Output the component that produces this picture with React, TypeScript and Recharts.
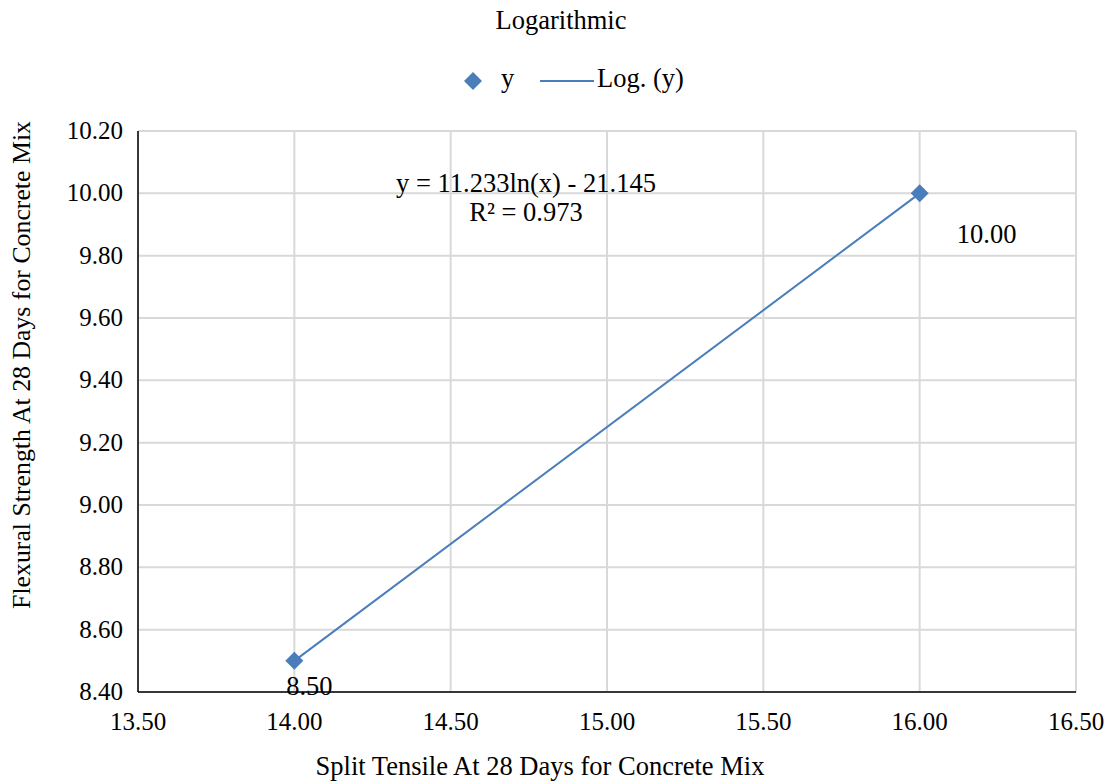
import { ComposedChart, Scatter, Line, XAxis, YAxis, CartesianGrid, LabelList } from "recharts";

// 측정값 (x: 쪼갬인장, y: 휨강도)
const xValues = [14.0, 16.0];
const yValues = [8.5, 10.0];
// 로그 추세선 끝점
const trendValues = [8.5, 10.0];
const xTicks = [13.5, 14.0, 14.5, 15.0, 15.5, 16.0, 16.5];
const yTicks = [8.4, 8.6, 8.8, 9.0, 9.2, 9.4, 9.6, 9.8, 10.0, 10.2];

const FONT = '"Liberation Serif", "Times New Roman", serif';
const BLUE = "#4a7ebb";
const TXT = 26.5;
const TICK = 25;

const data = xValues.map((x, i) => ({ x, y: yValues[i], trend: trendValues[i] }));

const Diamond = (props: any) => {
  const { cx, cy } = props;
  if (cx == null || cy == null) return null;
  const r = 9;
  return <path d={`M${cx},${cy - r}L${cx + r},${cy}L${cx},${cy + r}L${cx - r},${cy}Z`} fill={BLUE} />;
};

const PointLabel = (props: any) => {
  const { x, y, width, height, value, index } = props;
  const cx = x + (width ?? 0) / 2;
  const cy = y + (height ?? 0) / 2;
  const dx = index === 0 ? 15 : 67;
  const dy = index === 0 ? 34 : 50;
  return (
    <text x={cx + dx} y={cy + dy} textAnchor="middle" fontFamily={FONT} fontSize={TXT} fill="#000">
      {Number(value).toFixed(2)}
    </text>
  );
};

const XTick = (props: any) => {
  const { x, y, payload } = props;
  return (
    <text x={x} y={y + 30} textAnchor="middle" fontFamily={FONT} fontSize={TICK} fill="#000">
      {Number(payload.value).toFixed(2)}
    </text>
  );
};

const YTick = (props: any) => {
  const { x, y, payload } = props;
  return (
    <text x={x - 7} y={y + 8} textAnchor="end" fontFamily={FONT} fontSize={TICK} fill="#000">
      {Number(payload.value).toFixed(2)}
    </text>
  );
};

export default function App() {
  return (
    <div style={{ position: "absolute", left: 0, top: 0, width: 1113, height: 784, background: "#fff", fontFamily: FONT, color: "#000" }}>
      <div style={{ position: "absolute", left: 0, width: 1122, top: 5, textAlign: "center", fontSize: TXT }}>Logarithmic</div>
      <div style={{ position: "absolute", top: 62, left: 0, width: 1113, height: 36 }}>
        <svg width={20} height={20} style={{ position: "absolute", left: 463, top: 9 }}>
          <path d="M10,1L19,10L10,19L1,10Z" fill={BLUE} />
        </svg>
        <span style={{ position: "absolute", left: 501, top: 1, fontSize: TXT }}>y</span>
        <svg width={54} height={4} style={{ position: "absolute", left: 540, top: 17 }}>
          <line x1={0} y1={2} x2={54} y2={2} stroke={BLUE} strokeWidth={2} />
        </svg>
        <span style={{ position: "absolute", left: 597, top: 1, fontSize: TXT }}>Log. (y)</span>
      </div>

      <ComposedChart width={1113} height={784} data={data} margin={{ top: 131, right: 37, bottom: 52, left: 58 }}>
        <CartesianGrid stroke="#d9d9d9" strokeWidth={2} />
        <XAxis
          dataKey="x"
          type="number"
          domain={[13.5, 16.5]}
          ticks={xTicks}
          tick={<XTick />}
          tickLine={false}
          axisLine={{ stroke: "#000", strokeWidth: 1.5 }}
          height={40}
          interval={0}
        />
        <YAxis
          type="number"
          domain={[8.4, 10.2]}
          ticks={yTicks}
          tick={<YTick />}
          tickLine={false}
          axisLine={{ stroke: "#000", strokeWidth: 1.5 }}
          width={80}
          interval={0}
        />
        <Line dataKey="trend" stroke={BLUE} strokeWidth={2} dot={false} isAnimationActive={false} legendType="none" />
        <Scatter dataKey="y" shape={<Diamond />} isAnimationActive={false}>
          <LabelList dataKey="y" content={<PointLabel />} />
        </Scatter>
      </ComposedChart>

      <div style={{ position: "absolute", left: 326, width: 400, top: 169, textAlign: "center", fontSize: TXT, lineHeight: "29px" }}>
        y = 11.233ln(x) - 21.145
        <br />
        R² = 0.973
      </div>
      <div style={{ position: "absolute", left: 0, width: 1080, top: 751, textAlign: "center", fontSize: TXT }}>
        Split Tensile At 28 Days for Concrete Mix
      </div>
      <div
        style={{
          position: "absolute",
          left: 22,
          top: 350,
          width: 600,
          marginLeft: -300,
          textAlign: "center",
          fontSize: 25.8,
          lineHeight: "30px",
          transform: "rotate(-90deg)",
          whiteSpace: "nowrap",
        }}
      >
        Flexural Strength At 28 Days for Concrete Mix
      </div>
    </div>
  );
}
